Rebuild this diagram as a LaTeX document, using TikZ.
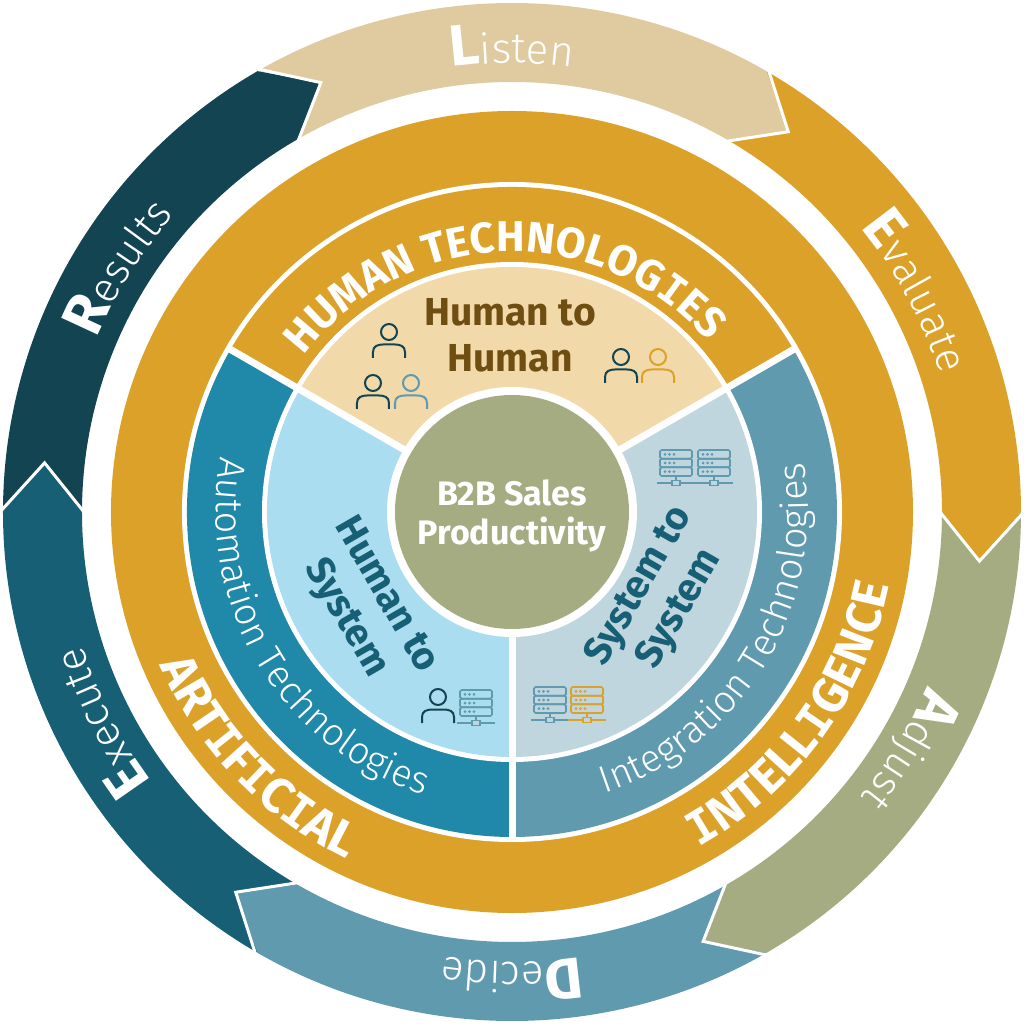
\documentclass[tikz,border=0pt]{standalone}
\usepackage{fontspec}
\setmainfont{Fira Sans}
\newfontfamily\lightf{FiraSans-Light}
\newfontfamily\slabf{DejaVu Sans Mono}
\usetikzlibrary{decorations.text}
\definecolor{cListen}{HTML}{E0CBA0}
\definecolor{cGold}{HTML}{DCA129}
\definecolor{cOlive}{HTML}{A5AC82}
\definecolor{cDecide}{HTML}{5F9AAF}
\definecolor{cExec}{HTML}{175F75}
\definecolor{cRes}{HTML}{124452}
\definecolor{cTan}{HTML}{F2D9A9}
\definecolor{cAuto}{HTML}{2088A8}
\definecolor{cSky}{HTML}{ABDDF0}
\definecolor{cPale}{HTML}{BFD6DF}
\definecolor{cBrown}{HTML}{6F4E12}
\newcommand\arrowseg[2]{%
  \pgfmathsetmacro\aA{#1+60}\pgfmathsetmacro\aB{#1-6}\pgfmathsetmacro\aC{#1+54}%
  \fill[#2] (\aA:509pt) arc[start angle=\aA,end angle=#1,radius=509pt] -- (\aB:470pt) -- (#1:430pt)
     arc[start angle=#1,end angle=\aA,radius=430pt] -- (\aC:470pt) -- cycle;}
\newcommand\notchline[1]{%
  \pgfmathsetmacro\aB{#1-6}%
  \draw[white,line width=3pt,miter limit=10] (#1:512pt) -- (\aB:470pt) -- (#1:428pt);}
\newcommand\sector[5]{\fill[#5] (#1:#3pt) arc[start angle=#1,end angle=#2,radius=#3pt] -- (#2:#4pt) arc[start angle=#2,end angle=#1,radius=#4pt] -- cycle;}
\newcommand\arctxt[4]{\path[decorate,decoration={text along path,text align=center,text={#4}}] (#2:#1pt) arc[start angle=#2,end angle=#3,radius=#1pt];}
\newcommand\person[3]{\begin{scope}[shift={(#1-512,512-#2)}]
  \draw[#3,line width=2pt] (0,0) circle[radius=8];
  \draw[#3,line width=2pt] (-16,-26) -- (-16,-20) .. controls (-16,-14) and (-11,-12.5) .. (-6,-12.5) -- (6,-12.5) .. controls (11,-12.5) and (16,-14) .. (16,-20) -- (16,-26);
  \end{scope}}
\newcommand\server[3]{\begin{scope}[shift={(#1-512,512-#2)}]
  \foreach \i in {0,1,2}{
    \draw[#3,line width=1.7pt,rounded corners=1.5] (0,-\i*8.67) rectangle (32,-\i*8.67-8.67);
    \foreach \d in {5,9.5,14}{\fill[#3] (\d,-\i*8.67-4.33) circle[radius=1.5];}
  }
  \draw[#3,line width=1.7pt] (16,-26) -- (16,-30);
  \draw[#3,line width=1.7pt] (-3,-33) -- (35,-33);
  \draw[#3,line width=1.7pt,fill=cPale] (12,-30.5) rectangle (20,-35.5);
  \end{scope}}
\def\sm{\lightf\fontsize{42}{48}\selectfont\color{white}}
\def\bg{\bfseries\fontsize{58}{60}\selectfont\color{white}}
\def\capf{\bfseries\fontsize{43}{48}\selectfont\color{white}}
\def\capi{\slabf\bfseries\fontsize{41}{48}\selectfont\color{white}}
\def\ai{\bfseries\fontsize{49}{52}\selectfont\color{white}}
\def\aii{\slabf\bfseries\fontsize{46}{52}\selectfont\color{white}}
\def\tec{\lightf\fontsize{38}{44}\selectfont\color{white}}
\tikzset{
  inner/.style={align=center,font=\bfseries\fontsize{39}{46}\selectfont,inner sep=0pt},
  centretext/.style={align=center,text=white,font=\bfseries\fontsize{34}{39}\selectfont,inner sep=0pt}
}
\begin{document}
\begin{tikzpicture}[x=1pt,y=1pt]
\useasboundingbox (-512,-512) rectangle (512,512);
\fill[white] (-512,-512) rectangle (512,512);
% outer arrows
\arrowseg{60}{cListen}
\arrowseg{0}{cGold}
\arrowseg{-60}{cOlive}
\arrowseg{-120}{cDecide}
\arrowseg{180}{cExec}
\arrowseg{120}{cRes}
\foreach \a in {60,0,-60,-120,180,120}{\notchline{\a}}
% rings
\fill[cGold] (0,0) circle[radius=401pt];
\fill[white] (0,0) circle[radius=330pt];
\sector{30}{150}{325}{0}{cGold}
\sector{150}{270}{325}{0}{cAuto}
\sector{-90}{30}{325}{0}{cDecide}
\fill[white] (0,0) circle[radius=250pt];
\sector{30}{150}{245}{0}{cTan}
\sector{150}{270}{245}{0}{cSky}
\sector{-90}{30}{245}{0}{cPale}
\draw[white,line width=7pt] (30:329pt) -- (0,0) -- (150:329pt);
\draw[white,line width=7pt] (0,0) -- (-90:329pt);
\fill[white] (0,0) circle[radius=125pt];
\fill[cOlive] (0,0) circle[radius=117pt];
% arc labels
\arctxt{449}{120}{60}{|\bg|L|\sm|isten}
\arctxt{450}{58.5}{-1.5}{|\bg|E|\sm|valuate}
\arctxt{450}{-1}{-61}{|\bg|A|\sm|djust}
\arctxt{450}{-60}{-120}{|\bg|D|\sm|ecide}
\arctxt{450}{-123}{-183}{|\bg|E|\sm|xecute}
\arctxt{450}{178}{118}{|\bg|R|\sm|esults}
\arctxt{260}{162}{22}{|\capf|HUMAN TECHNOLOG|\capi|I|\capf|ES}
\arctxt{296}{151}{271}{|\tec|Automation Technologies}
\arctxt{296}{-91}{29}{|\tec|Integration Technologies}
\arctxt{384}{184}{264}{|\ai|ART|\aii|I|\ai|F|\aii|I|\ai|C|\aii|I|\ai|AL}
\arctxt{384}{-76}{4}{|\aii|I|\ai|NTELL|\aii|I|\ai|GENCE}
% centre labels
\node[centretext] (core) at (0,-4) {B2B Sales\\Productivity};
\node[inner,text=cBrown] (hh) at (-2,177) {Human to\\Human};
\node[inner,text=cExec,rotate=-60] (hs) at (-147,-95) {Human to\\System};
\node[inner,text=cExec,rotate=60] (ss) at (148,-86) {System to\\System};
% icons
\person{389}{332}{cRes}
\person{373}{383}{cRes}
\person{411}{383}{cDecide}
\person{621}{357}{cRes}
\person{658}{357}{cGold}
\person{438}{697}{cRes}
\server{660}{450}{cDecide}
\server{698}{450}{cDecide}
\server{460}{690}{cDecide}
\server{534}{687}{cDecide}
\server{571}{687}{cGold}
\end{tikzpicture}
\end{document}
